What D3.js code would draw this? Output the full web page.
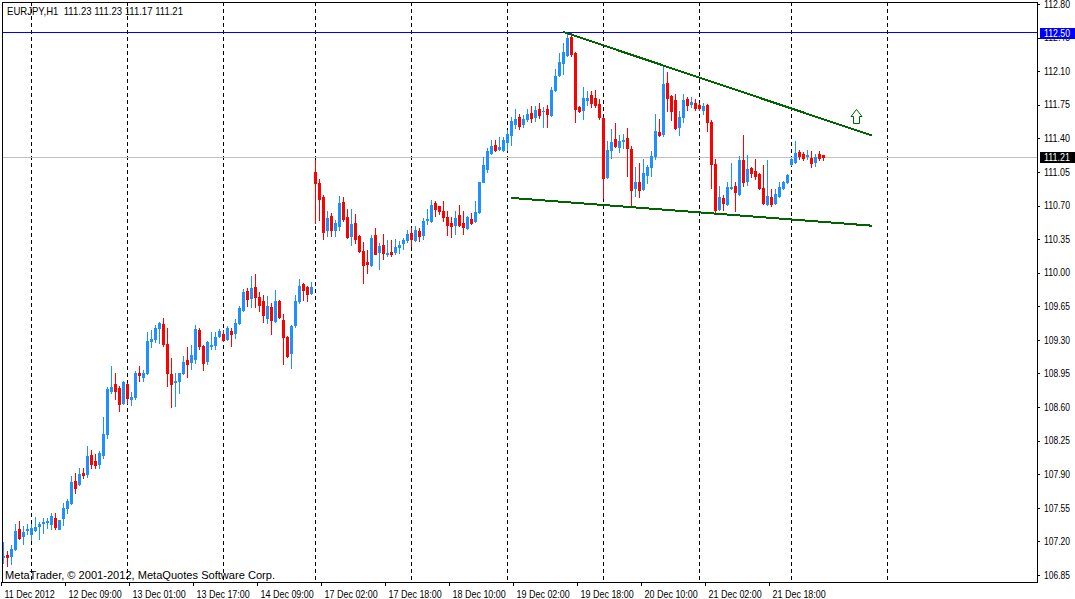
<!DOCTYPE html>
<html><head><meta charset="utf-8">
<script src="https://cdn.jsdelivr.net/npm/d3@7"></script>
<style>
html,body{margin:0;padding:0;background:#fff;overflow:hidden}
svg{display:block}
text{font-family:"Liberation Sans",Arial,sans-serif;font-size:11px;fill:#000}
text.pl{font-size:10px}
</style></head>
<body><svg id="c" width="1075" height="599"></svg>
<script>
const symbolTitle = "EURJPY,H1  111.23 111.23 111.17 111.21";
const copyright = "MetaTrader, \u00A9 2001-2012, MetaQuotes Software Corp.";

const opens = [107.04,107.06,107.05,107.12,107.33,107.26,107.32,107.28,107.32,107.36,107.39,107.40,107.38,107.44,107.33,107.44,107.55,107.60,107.83,107.80,
107.91,107.90,108.10,108.04,108.01,108.10,108.32,108.77,108.84,108.80,108.64,108.84,108.68,108.71,108.96,108.91,108.96,109.29,109.31,109.42,
109.47,109.26,108.94,108.86,108.87,108.96,109.09,109.07,109.10,109.40,109.24,109.08,109.24,109.25,109.34,109.36,109.31,109.39,109.37,109.48,
109.61,109.81,109.74,109.85,109.75,109.70,109.53,109.64,109.50,109.70,109.51,109.33,109.16,109.46,109.70,109.88,109.85,109.79,111.05,110.93,
110.79,110.44,110.59,110.44,110.49,110.74,110.58,110.38,110.52,110.38,110.23,110.11,110.08,110.39,110.22,110.29,110.19,110.22,110.22,110.27,
110.31,110.34,110.41,110.34,110.43,110.39,110.55,110.54,110.73,110.69,110.64,110.58,110.52,110.50,110.60,110.52,110.47,110.56,110.54,110.63,
110.95,111.08,111.25,111.33,111.29,111.28,111.36,111.44,111.55,111.62,111.55,111.60,111.66,111.62,111.71,111.68,111.71,111.64,111.90,112.06,
112.18,112.27,112.46,112.29,111.73,111.70,111.80,111.85,111.82,111.76,111.61,111.00,111.28,111.39,111.31,111.37,111.40,111.29,110.88,110.94,
110.87,111.02,111.10,111.22,111.47,111.45,111.98,111.84,111.80,111.52,111.62,111.81,111.76,111.77,111.75,111.70,111.75,111.57,111.13,110.66,
110.78,110.72,110.88,110.90,110.82,111.17,110.96,111.09,111.06,111.03,110.88,110.72,110.79,110.73,110.80,110.88,110.95,111.13,111.15,111.26,
111.24,111.22,111.20,111.15,111.24,111.23];
const highs = [107.19,107.10,107.16,107.38,107.41,107.36,107.38,107.38,107.45,107.40,107.44,107.44,107.50,107.50,107.42,107.60,107.64,107.88,107.91,107.96,
107.96,108.19,108.15,108.11,108.14,108.50,108.81,109.03,108.95,108.82,108.87,108.85,108.76,108.98,109.03,108.99,109.38,109.40,109.46,109.49,
109.53,109.42,109.11,108.95,108.96,109.13,109.23,109.25,109.46,109.42,109.25,109.29,109.38,109.38,109.41,109.40,109.44,109.42,109.52,109.65,
109.83,109.84,109.97,109.99,109.80,109.77,109.76,109.68,109.82,109.72,109.57,109.34,109.45,109.77,109.93,109.89,109.86,109.90,111.17,110.98,
110.81,110.64,110.62,110.55,110.80,110.79,110.66,110.66,110.61,110.39,110.32,110.24,110.39,110.47,110.31,110.40,110.34,110.34,110.35,110.33,
110.36,110.44,110.47,110.49,110.47,110.57,110.66,110.76,110.75,110.70,110.75,110.64,110.58,110.64,110.71,110.64,110.59,110.62,110.75,110.95,
111.21,111.30,111.38,111.38,111.41,111.41,111.49,111.62,111.71,111.65,111.64,111.71,111.74,111.74,111.77,111.73,111.75,111.94,112.12,112.29,
112.39,112.51,112.50,112.30,111.74,111.94,111.89,111.89,111.90,111.81,111.62,111.37,111.50,111.56,111.44,111.45,111.51,111.32,111.10,111.14,
111.18,111.12,111.27,111.65,111.60,112.16,112.09,111.85,111.86,111.69,111.86,111.83,111.83,111.81,111.77,111.77,111.76,111.59,111.19,110.90,
110.81,110.95,111.14,110.94,111.22,111.43,111.23,111.10,111.19,111.04,111.12,111.17,110.87,110.87,110.95,110.96,111.03,111.20,111.37,111.28,
111.26,111.28,111.27,111.24,111.27,111.23];
const lows = [106.98,106.94,106.96,107.11,107.22,107.17,107.28,107.21,107.31,107.23,107.29,107.34,107.33,107.33,107.33,107.37,107.50,107.59,107.70,107.79,
107.86,107.87,107.97,107.96,107.97,108.07,108.28,108.75,108.68,108.56,108.63,108.64,108.62,108.68,108.87,108.87,108.94,109.23,109.28,109.27,
109.24,108.82,108.60,108.61,108.75,108.94,108.91,109.00,109.06,109.21,108.99,109.05,109.21,109.20,109.33,109.29,109.30,109.24,109.32,109.47,
109.60,109.65,109.64,109.64,109.60,109.49,109.48,109.36,109.49,109.53,109.05,109.12,109.01,109.43,109.68,109.72,109.70,109.78,110.52,110.55,
110.35,110.38,110.38,110.38,110.45,110.54,110.36,110.29,110.31,110.22,109.89,110.00,110.07,110.19,110.04,110.14,110.17,110.17,110.19,110.21,
110.25,110.32,110.28,110.33,110.33,110.35,110.51,110.53,110.59,110.61,110.54,110.39,110.37,110.40,110.49,110.40,110.46,110.51,110.53,110.62,
110.94,111.05,111.24,111.27,111.28,111.27,111.28,111.33,111.51,111.50,111.52,111.58,111.57,111.58,111.61,111.52,111.52,111.63,111.89,112.05,
112.07,112.26,112.26,111.57,111.67,111.60,111.75,111.73,111.73,111.60,110.78,110.99,111.20,111.31,111.26,111.30,111.01,110.69,110.80,110.79,
110.86,110.93,111.01,111.19,111.42,111.42,111.69,111.59,111.50,111.44,111.57,111.70,111.73,111.70,111.70,111.65,111.48,110.88,110.61,110.65,
110.65,110.71,110.87,110.64,110.81,110.90,110.91,111.00,110.98,110.87,110.72,110.71,110.70,110.72,110.79,110.87,110.93,111.12,111.14,111.18,
111.17,111.18,111.10,111.11,111.17,111.17];
const closes = [107.05,107.04,107.12,107.31,107.24,107.30,107.33,107.34,107.35,107.38,107.40,107.41,107.46,107.35,107.42,107.55,107.62,107.82,107.76,107.90,
107.89,108.09,108.01,108.00,108.12,108.32,108.79,108.81,108.77,108.63,108.86,108.69,108.70,108.96,108.93,108.96,109.29,109.31,109.42,109.48,
109.26,108.96,108.84,108.87,108.95,109.07,109.05,109.14,109.41,109.24,109.06,109.28,109.25,109.33,109.39,109.30,109.42,109.36,109.48,109.63,
109.80,109.73,109.84,109.75,109.66,109.56,109.65,109.51,109.71,109.54,109.33,109.13,109.44,109.70,109.86,109.82,109.78,109.85,110.93,110.77,
110.42,110.57,110.45,110.52,110.73,110.56,110.37,110.51,110.35,110.23,110.08,110.09,110.36,110.20,110.28,110.21,110.21,110.19,110.27,110.29,
110.34,110.40,110.35,110.44,110.38,110.54,110.56,110.71,110.66,110.64,110.58,110.50,110.49,110.57,110.50,110.48,110.58,110.52,110.63,110.94,
111.12,111.27,111.32,111.28,111.31,111.38,111.45,111.58,111.60,111.53,111.60,111.65,111.61,111.70,111.64,111.69,111.65,111.90,112.05,112.20,
112.30,112.45,112.28,111.71,111.68,111.82,111.82,111.77,111.75,111.62,110.99,111.28,111.36,111.32,111.37,111.38,111.30,110.86,110.95,110.86,
111.04,111.10,111.22,111.48,111.44,111.97,111.82,111.69,111.51,111.62,111.80,111.75,111.78,111.72,111.72,111.74,111.57,111.13,110.65,110.79,
110.73,110.89,110.89,110.84,111.17,110.95,111.08,111.04,111.01,110.88,110.73,110.80,110.72,110.82,110.89,110.95,111.02,111.18,111.25,111.22,
111.20,111.23,111.14,111.21,111.20,111.21];

const priceTicks = [106.85,107.20,107.55,107.90,108.25,108.60,108.95,109.30,109.65,110.00,110.35,110.70,111.05,111.40,111.75,112.10,112.45,112.80];
const timeTickBars = [0,16,32,48,64,80,96,112,128,144,160,176,192];
const timeTickLabels = ["11 Dec 2012","12 Dec 09:00","13 Dec 01:00","13 Dec 17:00","14 Dec 09:00","17 Dec 02:00","17 Dec 18:00","18 Dec 10:00","19 Dec 02:00","19 Dec 18:00","20 Dec 10:00","21 Dec 02:00","21 Dec 18:00"];
const separatorBars = [7,31,55,78,102,126,150,174,197,221];
const highLevel = 112.50;
const lastPrice = 111.21;
const upperTrend = [[140,112.51],[217.2,111.43]];
const lowerTrend = [[126.9,110.78],[217.2,110.49]];
const arrowAt = [213.25,111.71];

const W = 1075, H = 599;
const L = 2, T = 2, R = 1037, B = 582;
const svg = d3.select("#c");
svg.append("rect").attr("width",W).attr("height",H).attr("fill","#fff");

const x = d3.scaleLinear().domain([0,258]).range([3,1035]);
const y = d3.scaleLinear().domain([priceTicks[0], priceTicks[priceTicks.length-1]]).range([575,4]);
const px = v => Math.round(x(v));
const py = v => Math.round(y(v));

// squeeze text horizontally to mimic the narrow MetaTrader bitmap font
function squeeze(sel, k){
  sel.each(function(){
    const w = this.getComputedTextLength();
    this.setAttribute("textLength", (w*k).toFixed(1));
    this.setAttribute("lengthAdjust","spacingAndGlyphs");
  });
}
function fitTo(sel, target){
  sel.each(function(){
    this.setAttribute("textLength", target);
    this.setAttribute("lengthAdjust","spacingAndGlyphs");
  });
}

svg.append("clipPath").attr("id","plot").append("rect")
  .attr("x",L+1).attr("y",T+1).attr("width",R-L-1).attr("height",B-T-1);
const plot = svg.append("g").attr("clip-path","url(#plot)").attr("shape-rendering","crispEdges");

// period separators
plot.selectAll("line.sep").data(separatorBars).join("line").attr("class","sep")
  .attr("x1",d=>px(d)+0.5).attr("x2",d=>px(d)+0.5).attr("y1",T).attr("y2",B)
  .attr("stroke","#000").attr("stroke-width",1).attr("stroke-dasharray","4,3");

// horizontal lines
plot.append("line").attr("x1",L).attr("x2",R).attr("y1",Math.floor(y(lastPrice))+1).attr("y2",Math.floor(y(lastPrice))+1)
  .attr("stroke","#c0c0c0").attr("stroke-width",1);
plot.append("line").attr("x1",L).attr("x2",R).attr("y1",Math.floor(y(highLevel))+0.5).attr("y2",Math.floor(y(highLevel))+0.5)
  .attr("stroke","#0000ff").attr("stroke-width",1);

// candles
const candles = opens.map((o,i)=>({i,o,h:highs[i],l:lows[i],c:closes[i]}));
const col = d => d.c >= d.o ? "#1e90ff" : "#ff0000";
const g = plot.append("g");
g.selectAll("rect.wick").data(candles).join("rect").attr("class","wick")
  .attr("x",d=>px(d.i)).attr("width",1)
  .attr("y",d=>py(d.h)).attr("height",d=>Math.max(1,py(d.l)-py(d.h)+1))
  .attr("fill",col);
g.selectAll("rect.body").data(candles).join("rect").attr("class","body")
  .attr("x",d=>px(d.i)-1).attr("width",3)
  .attr("y",d=>py(Math.max(d.o,d.c))).attr("height",d=>Math.max(1,py(Math.min(d.o,d.c))-py(Math.max(d.o,d.c))+1))
  .attr("fill",col);

// trend lines
const line = d3.line().x(d=>x(d[0])).y(d=>y(d[1]));
[upperTrend, lowerTrend].forEach(t=>{
  plot.append("path").attr("d",line(t)).attr("fill","none").attr("stroke","#006400").attr("stroke-width",2);
});

// arrow object
const ax = px(arrowAt[0]) + 0.5, ay = Math.round(y(arrowAt[1])) + 0.5;
plot.append("path")
  .attr("d",`M${ax},${ay} L${ax+5.5},${ay+7} L${ax+3},${ay+7} L${ax+3},${ay+14} L${ax-3},${ay+14} L${ax-3},${ay+7} L${ax-5.5},${ay+7} Z`)
  .attr("fill","#fff").attr("stroke","#006400").attr("stroke-width",1).attr("shape-rendering","auto");

// frame
svg.append("rect").attr("x",L+0.5).attr("y",T+0.5).attr("width",R-L).attr("height",B-T)
  .attr("fill","none").attr("stroke","#000").attr("stroke-width",1).attr("shape-rendering","crispEdges");

// price axis
const yAxis = svg.append("g").attr("transform",`translate(${R},0)`)
  .call(d3.axisRight(y).tickValues(priceTicks).tickSize(3).tickPadding(4).tickFormat(d3.format(".2f")));
yAxis.attr("font-family",null).attr("font-size",null);
yAxis.select(".domain").remove();
yAxis.selectAll("line").attr("stroke","#000").attr("shape-rendering","crispEdges");
yAxis.selectAll("text").attr("class","pl").attr("fill","#000");
fitTo(yAxis.selectAll("text"), 26);

// time axis
const xAxis = svg.append("g").attr("transform",`translate(-2,${B})`)
  .call(d3.axisBottom(x).tickValues(timeTickBars).tickSize(4).tickPadding(4).tickFormat((d,i)=>timeTickLabels[i]));
xAxis.attr("font-family",null).attr("font-size",null);
xAxis.select(".domain").remove();
xAxis.selectAll("line").attr("stroke","#000").attr("shape-rendering","crispEdges");
xAxis.selectAll("text").attr("text-anchor","start").attr("x",3).attr("fill","#000");
squeeze(xAxis.selectAll("text"), 0.815);

// price boxes
function priceBox(v, bg){
  const cy = Math.round(y(v));
  svg.append("rect").attr("x",R+3).attr("y",cy-5).attr("width",35).attr("height",11).attr("fill",bg).attr("shape-rendering","crispEdges");
  const t = svg.append("text").attr("class","pl").attr("x",R+7).attr("y",cy).attr("dy","0.35em").style("fill","#fff").text(d3.format(".2f")(v));
  fitTo(t, 26);
}
priceBox(highLevel,"#0000ff");
priceBox(lastPrice,"#000000");

// header & watermark
const head = svg.append("text").attr("x",7).attr("y",15).style("white-space","pre").text(symbolTitle);
fitTo(head, 176);
const wm = svg.append("text").attr("x",5).attr("y",579).text(copyright);
fitTo(wm, 270);
</script>
</body></html>
